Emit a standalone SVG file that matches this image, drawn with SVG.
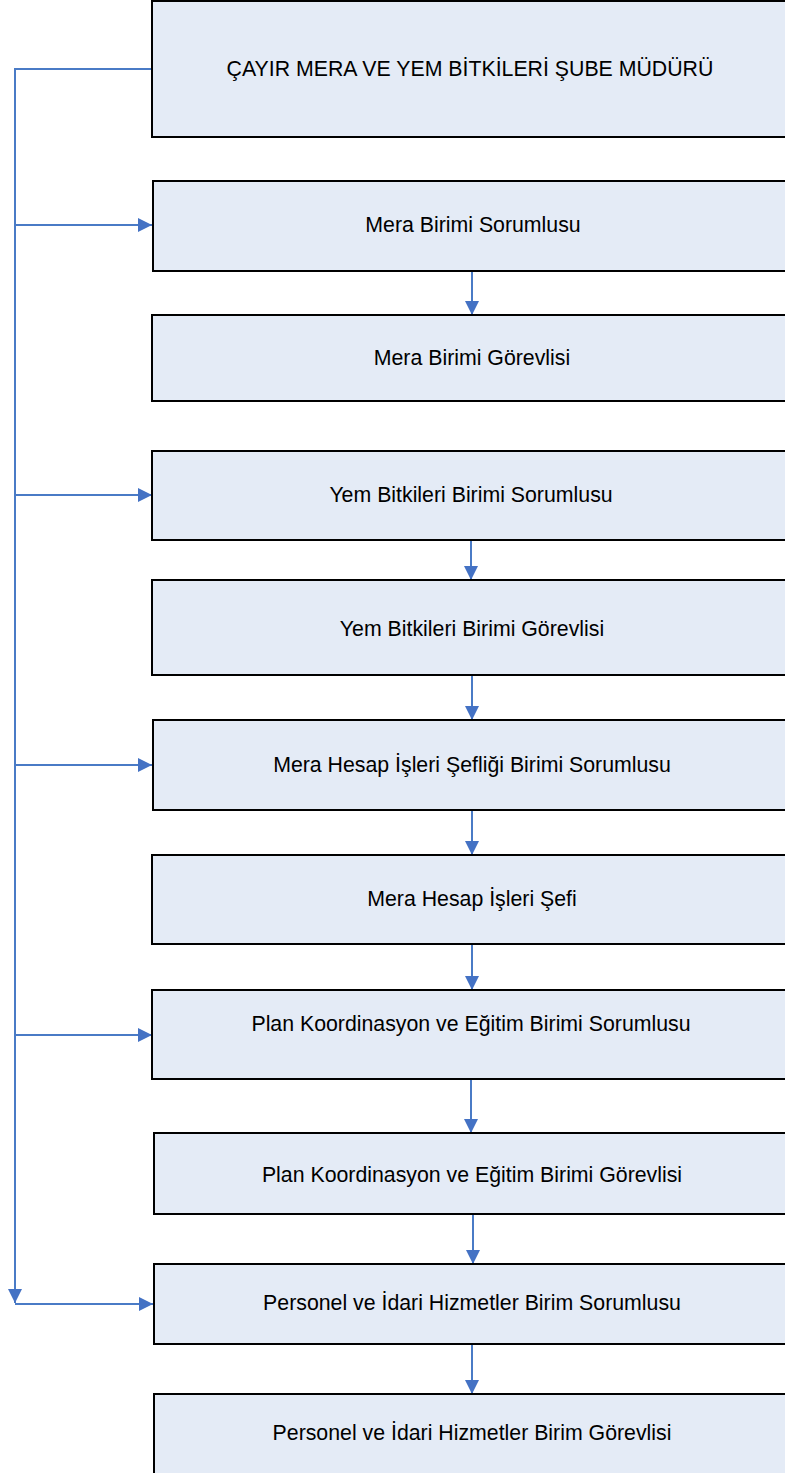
<svg xmlns="http://www.w3.org/2000/svg" width="785" height="1473" viewBox="0 0 785 1473">
<style>
.box{fill:#E4EBF6;stroke:#000;stroke-width:2}
.t{font-family:"Liberation Sans",Arial,sans-serif;font-size:21.3px;fill:#000;text-anchor:middle;dominant-baseline:central}
.c{fill:none;stroke:#4A7BC6;stroke-width:2}
</style>
<defs>
<marker id="ah" viewBox="0 0 14 14" refX="14" refY="7" markerWidth="14" markerHeight="14" markerUnits="userSpaceOnUse" orient="auto">
<path d="M0,0 L14,7 L0,14 z" fill="#4472C4"/>
</marker>
</defs>
<rect width="785" height="1473" fill="#fff"/>
<g id="connectors">
<path class="c" d="M152,69 H15 V1303" marker-end="url(#ah)"/>
<path class="c" d="M15,225 H152" marker-end="url(#ah)"/>
<path class="c" d="M15,495 H152" marker-end="url(#ah)"/>
<path class="c" d="M15,765 H152" marker-end="url(#ah)"/>
<path class="c" d="M15,1035 H152" marker-end="url(#ah)"/>
<path class="c" d="M15,1304 H153" marker-end="url(#ah)"/>
<path class="c" d="M472,271 V315" marker-end="url(#ah)"/>
<path class="c" d="M471,540 V580" marker-end="url(#ah)"/>
<path class="c" d="M472,675 V720" marker-end="url(#ah)"/>
<path class="c" d="M472,810 V855" marker-end="url(#ah)"/>
<path class="c" d="M472,944 V990" marker-end="url(#ah)"/>
<path class="c" d="M471,1079 V1133" marker-end="url(#ah)"/>
<path class="c" d="M473,1214 V1264" marker-end="url(#ah)"/>
<path class="c" d="M472,1344 V1394" marker-end="url(#ah)"/>
</g>
<g id="n1"><rect class="box" x="152" y="1" width="640" height="136"/><text class="t" x="470" y="69">ÇAYIR MERA VE YEM BİTKİLERİ ŞUBE MÜDÜRÜ</text></g>
<g id="n2"><rect class="box" x="153" y="181" width="640" height="90"/><text class="t" x="473" y="225">Mera Birimi Sorumlusu</text></g>
<g id="n3"><rect class="box" x="152" y="315" width="640" height="86"/><text class="t" x="472" y="358">Mera Birimi Görevlisi</text></g>
<g id="n4"><rect class="box" x="152" y="451" width="640" height="89"/><text class="t" x="471" y="495">Yem Bitkileri Birimi Sorumlusu</text></g>
<g id="n5"><rect class="box" x="152" y="580" width="640" height="95"/><text class="t" x="472" y="629">Yem Bitkileri Birimi Görevlisi</text></g>
<g id="n6"><rect class="box" x="153" y="720" width="640" height="90"/><text class="t" x="472" y="765">Mera Hesap İşleri Şefliği Birimi Sorumlusu</text></g>
<g id="n7"><rect class="box" x="152" y="855" width="640" height="89"/><text class="t" x="472" y="899">Mera Hesap İşleri Şefi</text></g>
<g id="n8"><rect class="box" x="152" y="990" width="640" height="89"/><text class="t" x="471" y="1024">Plan Koordinasyon ve Eğitim Birimi Sorumlusu</text></g>
<g id="n9"><rect class="box" x="154" y="1133" width="640" height="81"/><text class="t" x="472" y="1175">Plan Koordinasyon ve Eğitim Birimi Görevlisi</text></g>
<g id="n10"><rect class="box" x="154" y="1264" width="640" height="80"/><text class="t" x="472" y="1303">Personel ve İdari Hizmetler Birim Sorumlusu</text></g>
<g id="n11"><rect class="box" x="154" y="1394" width="640" height="82"/><text class="t" x="472" y="1433">Personel ve İdari Hizmetler Birim Görevlisi</text></g>
</svg>
